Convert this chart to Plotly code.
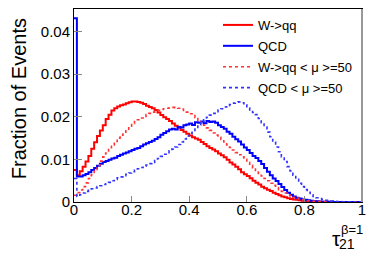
import plotly.graph_objects as go

# bin edges: 100 bins of width 0.01 from 0 to 1
bin_width = 0.01
n_bins = 100

w_qq = [0.0075, 0.0063, 0.0072, 0.0083, 0.0095, 0.0108, 0.0125, 0.0140, 0.0155, 0.0168,
        0.0180, 0.0195, 0.0205, 0.0215, 0.0220, 0.0224, 0.0227, 0.0229, 0.0232, 0.0234,
        0.0236, 0.0236, 0.0235, 0.0233, 0.0230, 0.0226, 0.0223, 0.0220, 0.0216, 0.0210,
        0.0204, 0.0199, 0.0195, 0.0190, 0.0184, 0.0179, 0.0174, 0.0169, 0.0165, 0.0160,
        0.0156, 0.0152, 0.0149, 0.0146, 0.0141, 0.0136, 0.0131, 0.0127, 0.0123, 0.0119,
        0.0114, 0.0110, 0.0105, 0.0099, 0.0093, 0.0088, 0.0083, 0.0077, 0.0070, 0.0065,
        0.0061, 0.0056, 0.0050, 0.0045, 0.0041, 0.0036, 0.0032, 0.0029, 0.0026, 0.0022,
        0.0019, 0.0016, 0.0013, 0.0011, 0.0009, 0.0007, 0.0006, 0.0005, 0.0004, 0.0003,
        0.0002, 0.00015, 0.0001, 0.0001, 0.00008, 0.00006, 0.00005, 0.00004, 0.00003, 0.00002,
        0.00002, 0.00001, 0.00001, 0.0, 0.0, 0.0, 0.0, 0.0, 0.0, 0.0]

qcd = [0.0431, 0.0060, 0.0060, 0.0063, 0.0066, 0.0070, 0.0075, 0.0080, 0.0085, 0.0090,
       0.0094, 0.0096, 0.0099, 0.0102, 0.0104, 0.0108, 0.0111, 0.0114, 0.0116, 0.0119,
       0.0122, 0.0125, 0.0127, 0.0131, 0.0135, 0.0138, 0.0141, 0.0144, 0.0148, 0.0152,
       0.0158, 0.0162, 0.0166, 0.0170, 0.0172, 0.0170, 0.0176, 0.0175, 0.0180, 0.0182,
       0.0184, 0.0181, 0.0187, 0.0186, 0.0189, 0.0185, 0.0190, 0.0188, 0.0189, 0.0186,
       0.0180, 0.0176, 0.0172, 0.0165, 0.0160, 0.0153, 0.0147, 0.0142, 0.0135, 0.0128,
       0.0122, 0.0115, 0.0108, 0.0103, 0.0096, 0.0089, 0.0080, 0.0071, 0.0063, 0.0055,
       0.0049, 0.0042, 0.0035, 0.0028, 0.0022, 0.0017, 0.0013, 0.0010, 0.0008, 0.0006,
       0.0005, 0.0004, 0.0003, 0.0002, 0.00015, 0.0001, 0.00008, 0.00006, 0.00004, 0.00003,
       0.00002, 0.00002, 0.00001, 0.00001, 0.0, 0.0, 0.0, 0.0, 0.0, 0.0]

w_qq_pu50 = [0.0016, 0.0022, 0.0028, 0.0036, 0.0045, 0.0055, 0.0064, 0.0074, 0.0085, 0.0096,
             0.0106, 0.0115, 0.0125, 0.0134, 0.0142, 0.0150, 0.0157, 0.0164, 0.0171, 0.0178,
             0.0184, 0.0189, 0.0193, 0.0197, 0.0201, 0.0205, 0.0208, 0.0211, 0.0213, 0.0215,
             0.0217, 0.0219, 0.0220, 0.0221, 0.0222, 0.0221, 0.0220, 0.0218, 0.0215, 0.0211,
             0.0207, 0.0203, 0.0198, 0.0192, 0.0186, 0.0180, 0.0174, 0.0168, 0.0162, 0.0157,
             0.0152, 0.0147, 0.0141, 0.0134, 0.0128, 0.0122, 0.0116, 0.0111, 0.0106, 0.0100,
             0.0093, 0.0086, 0.0080, 0.0074, 0.0067, 0.0061, 0.0055, 0.0050, 0.0044, 0.0039,
             0.0034, 0.0029, 0.0025, 0.0021, 0.0017, 0.0014, 0.0011, 0.0009, 0.0007, 0.0005,
             0.0004, 0.0003, 0.0002, 0.00015, 0.0001, 0.00008, 0.00006, 0.00004, 0.00003, 0.00002,
             0.00002, 0.00001, 0.00001, 0.0, 0.0, 0.0, 0.0, 0.0, 0.0, 0.0]

qcd_pu50 = [0.0055, 0.0013, 0.0017, 0.0021, 0.0025, 0.0028, 0.0031, 0.0033, 0.0036, 0.0038,
            0.0041, 0.0043, 0.0046, 0.0050, 0.0053, 0.0057, 0.0059, 0.0062, 0.0065, 0.0068,
            0.0071, 0.0075, 0.0078, 0.0081, 0.0084, 0.0087, 0.0090, 0.0093, 0.0097, 0.0102,
            0.0107, 0.0112, 0.0116, 0.0120, 0.0124, 0.0129, 0.0135, 0.0141, 0.0148, 0.0155,
            0.0161, 0.0168, 0.0175, 0.0181, 0.0187, 0.0193, 0.0199, 0.0204, 0.0208, 0.0212,
            0.0216, 0.0219, 0.0223, 0.0226, 0.0229, 0.0232, 0.0234, 0.0235, 0.0233, 0.0228,
            0.0221, 0.0214, 0.0210, 0.0205, 0.0196, 0.0186, 0.0176, 0.0164, 0.0153, 0.0141,
            0.0129, 0.0118, 0.0106, 0.0095, 0.0083, 0.0073, 0.0063, 0.0053, 0.0044, 0.0036,
            0.0029, 0.0023, 0.0017, 0.0013, 0.0010, 0.0008, 0.0006, 0.0004, 0.0003, 0.0002,
            0.00015, 0.0001, 0.00008, 0.00005, 0.00003, 0.00002, 0.00001, 0.0, 0.0, 0.0]

series_names = ["W->qq", "QCD", "W->qq < μ >=50", "QCD < μ >=50"]
series_values = [w_qq, qcd, w_qq_pu50, qcd_pu50]
series_colors = ["#ff0000", "#0000ff", "#ff3333", "#3333ff"]
series_dash = ["solid", "solid", "dot", "dot"]
series_width = [2, 2, 1.6, 1.6]

y_ticks = [0, 0.01, 0.02, 0.03, 0.04]
y_ticklabels = ["0", "0.01", "0.02", "0.03", "0.04"]
x_ticks = [0, 0.2, 0.4, 0.6, 0.8, 1]
x_ticklabels = ["0", "0.2", "0.4", "0.6", "0.8", "1"]

edges = [round(i * bin_width, 4) for i in range(n_bins + 1)]

FONT = "Liberation Sans, Arial, Helvetica, sans-serif"

fig = go.Figure()
for name, vals, col, dash, w in zip(series_names, series_values, series_colors,
                                    series_dash, series_width):
    fig.add_trace(go.Scatter(
        x=edges, y=list(vals) + [vals[-1]],
        mode="lines", line=dict(shape="hv", color=col, width=w, dash=dash),
        name=name, legendgroup=name,
    ))

# The page body has an 8px margin, so the figure is drawn at (8, 8) in the window.
fig.update_layout(
    width=366, height=245,
    margin=dict(l=66, r=12, t=1, b=51, pad=0, autoexpand=False),
    paper_bgcolor="white", plot_bgcolor="white",
    font=dict(family=FONT, size=15, color="black"),
    showlegend=True,
    legend=dict(
        x=0.5, y=0.995, xanchor="left", yanchor="top",
        bgcolor="rgba(0,0,0,0)", borderwidth=0,
        font=dict(family=FONT, size=13, color="black"),
        tracegroupgap=1, itemwidth=30,
    ),
    xaxis=dict(
        range=[0, 1], tickvals=x_ticks, ticktext=x_ticklabels,
        ticks="inside", ticklen=6, tickcolor="#888888", tickwidth=1,
        showline=True, linecolor="black", linewidth=1, mirror=True,
        showgrid=False, zeroline=False, automargin=False,
        ticklabelstandoff=-6,
        tickfont=dict(family=FONT, size=15, color="black"),
    ),
    yaxis=dict(
        range=[0, 0.0453], tickvals=y_ticks, ticktext=y_ticklabels,
        ticks="inside", ticklen=8, tickcolor="#888888", tickwidth=1,
        showline=True, linecolor="black", linewidth=1, mirror=True,
        showgrid=False, zeroline=False, automargin=False,
        tickfont=dict(family=FONT, size=15, color="black"),
    ),
)

# right frame edge drawn in grey, as in the reference
fig.add_shape(type="line", xref="paper", yref="paper", x0=1, x1=1, y0=0, y1=1,
              line=dict(color="#999999", width=2))

# axis titles
fig.add_annotation(xref="paper", yref="paper", x=-0.19, y=0.534,
                   text="Fraction of Events", textangle=-90, showarrow=False,
                   font=dict(family=FONT, size=20, color="black"),
                   xanchor="center", yanchor="middle")
fig.add_annotation(xref="paper", yref="paper", x=0.913, y=-0.187,
                   text="τ", showarrow=False,
                   font=dict(family=FONT, size=21, color="black"),
                   xanchor="center", yanchor="middle")
fig.add_annotation(xref="paper", yref="paper", x=0.947, y=-0.22,
                   text="21", showarrow=False,
                   font=dict(family=FONT, size=14, color="black"),
                   xanchor="center", yanchor="middle")
fig.add_annotation(xref="paper", yref="paper", x=0.967, y=-0.14,
                   text="β=1", showarrow=False,
                   font=dict(family=FONT, size=13, color="black"),
                   xanchor="center", yanchor="middle")

fig.write_html("out.html")
